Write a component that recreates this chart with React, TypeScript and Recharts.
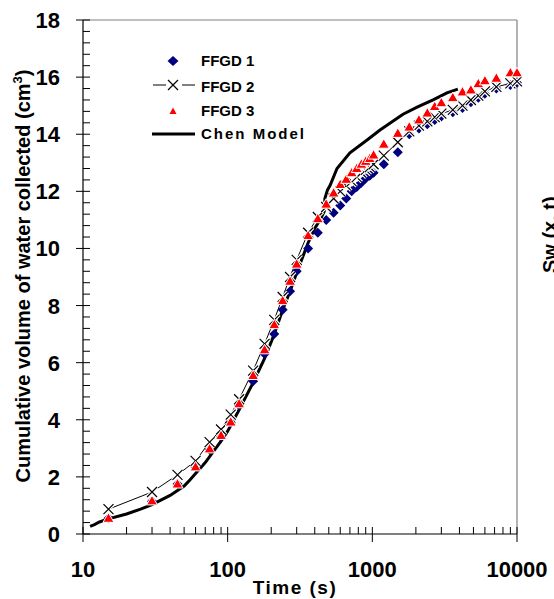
import React from 'react';
import { ComposedChart, Line, XAxis, YAxis, ReferenceLine } from 'recharts';

// ---- data ----
const TIMES = [15, 30, 45, 60, 75, 90, 105, 120, 150, 180, 210, 240, 270, 300, 360, 420, 480, 540, 600, 660, 720, 780, 840, 900, 960, 1020, 1200, 1500, 1800, 2100, 2400, 2700, 3000, 3600, 4200, 4800, 5400, 6000, 7200, 9000, 10000];
const FFGD1 = [0.55, 1.15, 1.75, 2.35, 2.95, 3.4, 3.9, 4.5, 5.35, 6.3, 7.0, 7.85, 8.5, 9.2, 10.0, 10.55, 11.0, 11.25, 11.5, 11.75, 12.0, 12.15, 12.3, 12.45, 12.55, 12.65, 12.95, 13.37, 14.0, 14.2, 14.35, 14.5, 14.62, 14.77, 14.92, 15.12, 15.28, 15.42, 15.6, 15.72, 15.8];
const FFGD2 = [0.87, 1.47, 2.07, 2.56, 3.22, 3.66, 4.18, 4.72, 5.72, 6.66, 7.5, 8.3, 9.0, 9.6, 10.55, 11.1, 11.45, 11.75, 12.0, 12.2, 12.35, 12.5, 12.65, 12.75, 12.85, 12.95, 13.25, 13.72, 14.1, 14.3, 14.45, 14.6, 14.72, 14.85, 15.0, 15.2, 15.35, 15.5, 15.66, 15.78, 15.85];
const FFGD3 = [0.55, 1.16, 1.75, 2.35, 2.98, 3.45, 3.92, 4.56, 5.55, 6.45, 7.33, 8.17, 8.85, 9.45, 10.45, 11.04, 11.55, 11.94, 12.24, 12.42, 12.65, 12.8, 12.95, 13.05, 13.15, 13.27, 13.65, 14.03, 14.25, 14.5, 14.74, 14.97, 15.1, 15.28, 15.48, 15.55, 15.77, 15.87, 15.96, 16.15, 16.15];
const CHEN_T = [11.2, 12, 13, 15, 20, 25, 30, 40, 45, 50, 55, 60, 70, 80, 90, 100, 120, 150, 180, 210, 240, 270, 300, 330, 360, 400, 440, 465, 470, 490, 510, 570, 700, 920, 1130, 1630, 2040, 2630, 3280, 3900];
const CHEN_V = [0.27, 0.33, 0.42, 0.53, 0.7, 0.87, 1.03, 1.35, 1.52, 1.68, 1.9, 2.12, 2.5, 2.9, 3.25, 3.6, 4.35, 5.3, 6.15, 7.0, 7.85, 8.5, 9.15, 9.7, 10.2, 10.7, 11.05, 11.3, 11.75, 12.05, 12.2, 12.8, 13.35, 13.8, 14.15, 14.7, 14.95, 15.2, 15.45, 15.58];

const X_MAJOR = [10, 100, 1000, 10000];
const Y_MAJOR = [0, 2, 4, 6, 8, 10, 12, 14, 16, 18];
const LEGEND = ['FFGD 1', 'FFGD 2', 'FFGD 3', 'Chen Model'];
const X_TITLE = 'Time (s)';
const Y_TITLE = 'Cumulative volume of water collected (cm';
const SIDE_TEXT = 'Sw (x, t)';

const X_TICKS: number[] = [];
X_MAJOR.forEach((m, i) => {
  if (i < X_MAJOR.length - 1) {
    for (let k = 1; k < 10; k++) X_TICKS.push(m * k);
  } else X_TICKS.push(m);
});
const Y_TICKS = Array.from({ length: 46 }, (_, i) => +(i * 0.4).toFixed(1));

const toRows = (ts: number[], vs: number[]) => ts.map((t, i) => ({ t, v: vs[i] }));
const d1 = toRows(TIMES, FFGD1);
const d2 = toRows(TIMES, FFGD2);
const d3 = toRows(TIMES, FFGD3);
const dChen = toRows(CHEN_T, CHEN_V);

const FONT = '"Liberation Sans", Arial, sans-serif';

const XTick = (p: any) => {
  const { x, y, payload } = p;
  const v = payload.value;
  const major = X_MAJOR.includes(v);
  return (
    <g>
      <line x1={x} x2={x} y1={y - 7} y2={major ? y + 8 : y} stroke="#000" strokeWidth={1} />
      {major && (
        <text x={x} y={y + 43} textAnchor="middle" fontFamily={FONT} fontWeight="bold" fontSize={22} fill="#000">
          {v}
        </text>
      )}
    </g>
  );
};

const YTick = (p: any) => {
  const { x, y, payload } = p;
  const v = payload.value;
  const major = Y_MAJOR.some((m) => Math.abs(m - v) < 1e-6);
  return (
    <g>
      <line x1={major ? x - 7 : x} x2={x + 7} y1={y} y2={y} stroke="#000" strokeWidth={1} />
      {major && (
        <text x={x - 23} y={y + 8} textAnchor="end" fontFamily={FONT} fontWeight="bold" fontSize={22} fill="#000">
          {v}
        </text>
      )}
    </g>
  );
};

const Diamond = (p: any) => {
  const { cx, cy, index } = p;
  if (cx == null || cy == null) return <g key={`d${index}`} />;
  return <path key={`d${index}`} d={`M${cx},${cy - 5} L${cx + 5},${cy} L${cx},${cy + 5} L${cx - 5},${cy} Z`} fill="#000080" />;
};

const Cross = (p: any) => {
  const { cx, cy, index } = p;
  if (cx == null || cy == null) return <g key={`x${index}`} />;
  const d = `M${cx - 5},${cy - 5} L${cx + 5},${cy + 5} M${cx - 5},${cy + 5} L${cx + 5},${cy - 5}`;
  return (
    <g key={`x${index}`}>
      <path d={d} stroke="#fff" strokeWidth={3.5} fill="none" />
      <path d={d} stroke="#000" strokeWidth={1.2} fill="none" />
    </g>
  );
};

const Tri = (p: any) => {
  const { cx, cy, index } = p;
  if (cx == null || cy == null) return <g key={`t${index}`} />;
  return <path key={`t${index}`} d={`M${cx},${cy - 5.5} L${cx + 5.5},${cy + 4} L${cx - 5.5},${cy + 4} Z`} fill="#ff0000" stroke="#fff" strokeWidth={1} />;
};

export default function App() {
  return (
    <div style={{ position: 'absolute', left: 0, top: 0, width: 554, height: 599, background: '#fff', overflow: 'hidden' }}>
      <ComposedChart width={554} height={599} margin={{ top: 20, right: 37, bottom: 0, left: 0 }}>
        <XAxis
          dataKey="t"
          type="number"
          scale="log"
          domain={[10, 10000]}
          ticks={X_TICKS}
          interval={0}
          tickSize={0}
          tickMargin={0}
          tick={<XTick />}
          tickLine={false}
          axisLine={{ stroke: '#000', strokeWidth: 1.2 }}
          height={65}
        />
        <YAxis
          dataKey="v"
          type="number"
          domain={[0, 18]}
          ticks={Y_TICKS}
          interval={0}
          tickSize={0}
          tickMargin={0}
          tick={<YTick />}
          tickLine={false}
          axisLine={{ stroke: '#000', strokeWidth: 1.2 }}
          width={83}
        />
        <ReferenceLine y={18} stroke="#808080" strokeWidth={1.2} />
        <ReferenceLine x={10000} stroke="#808080" strokeWidth={1.2} />
        <Line data={dChen} dataKey="v" stroke="#000" strokeWidth={3} dot={false} isAnimationActive={false} />
        <Line data={d1} dataKey="v" stroke="none" dot={Diamond} activeDot={false} isAnimationActive={false} />
        <Line data={d2} dataKey="v" stroke="#000" strokeWidth={1} dot={Cross} activeDot={false} isAnimationActive={false} />
        <Line data={d3} dataKey="v" stroke="none" dot={Tri} activeDot={false} isAnimationActive={false} />
      </ComposedChart>
      <svg width={554} height={599} style={{ position: 'absolute', left: 0, top: 0, pointerEvents: 'none' }}>
        {/* legend */}
        <path d="M173,56 L178.5,61 L173,66 L167.5,61 Z" fill="#000080" />
        <line x1={153} x2={166} y1={85} y2={85} stroke="#000" strokeWidth={1} />
        <line x1={182} x2={195} y1={85} y2={85} stroke="#000" strokeWidth={1} />
        <path d="M168,80 L178,90 M168,90 L178,80" stroke="#000" strokeWidth={1.2} />
        <path d="M173,107.5 L176.5,114 L169.5,114 Z" fill="#ff0000" />
        <line x1={152} x2={195} y1={134} y2={134} stroke="#000" strokeWidth={3} />
        {LEGEND.map((s, i) => (
          <text
            key={s}
            x={201}
            y={[66, 91.5, 116, 139][i]}
            fontFamily={FONT}
            fontWeight="bold"
            fontSize={15}
            letterSpacing={i === 3 ? 2 : 0}
            fill="#000"
          >
            {s}
          </text>
        ))}
        <text x={295} y={594} textAnchor="middle" fontFamily={FONT} fontWeight="bold" fontSize={19} letterSpacing={1.5} fill="#000">
          {X_TITLE}
        </text>
        <text
          transform="translate(30,276) rotate(-90)"
          textAnchor="middle"
          fontFamily={FONT}
          fontWeight="bold"
          fontSize={20}
          fill="#000"
        >
          {Y_TITLE}
          <tspan dy={-8} fontSize={13}>3</tspan>
          <tspan dy={8}>)</tspan>
        </text>
        <text transform="translate(557,273) rotate(-90)" fontFamily={FONT} fontWeight="bold" fontSize={20} fill="#000">
          {SIDE_TEXT}
        </text>
      </svg>
    </div>
  );
}
